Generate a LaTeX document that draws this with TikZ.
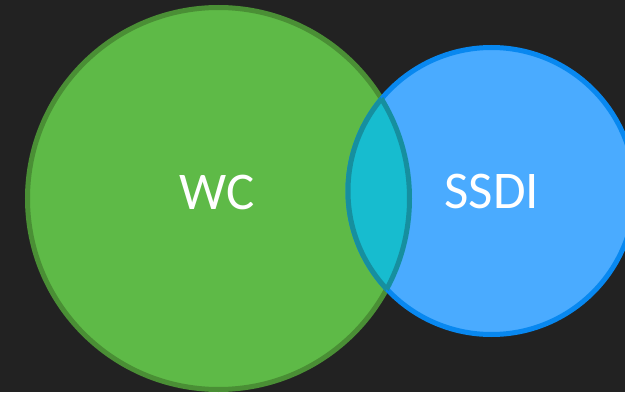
\documentclass[tikz,border=0pt]{standalone}
\usepackage{fontspec}
\setmainfont{Carlito}
\definecolor{bg}{HTML}{222222}
\definecolor{gfill}{HTML}{5EBA47}
\definecolor{gline}{HTML}{4A8F35}
\definecolor{bfill}{HTML}{4AABFF}
\definecolor{bline}{HTML}{0888F0}
\definecolor{tfill}{HTML}{17BCCF}
\definecolor{tline}{HTML}{168F9F}
\begin{document}
\begin{tikzpicture}[x=1pt,y=1pt,
  lbl/.style={text=white,font=\fontsize{53}{53}\selectfont,inner sep=0pt}]
\fill[bg] (0,0) rectangle (625,392);
\useasboundingbox (0,0) rectangle (625,392);
\coordinate (g) at (218.5,193.5);
\coordinate (b) at (491.5,201);
\def\rg{191}
\def\rb{143.5}
\draw[line width=5pt,fill=gfill,draw=gline] (g) circle (\rg);
\draw[line width=5pt,fill=bfill,draw=bline] (b) circle (\rb);
\begin{scope}
  \clip (g) circle (\rg);
  \fill[tfill] (b) circle (\rb);
  \draw[line width=5pt,tline] (b) circle (\rb);
\end{scope}
\begin{scope}
  \clip (b) circle (\rb);
  \draw[line width=5pt,tline] (g) circle (\rg);
\end{scope}
\node[lbl] (wc) at (217,200) {WC};
\node[lbl] (ssdi) at (492,201) {SSDI};
\end{tikzpicture}
\end{document}
